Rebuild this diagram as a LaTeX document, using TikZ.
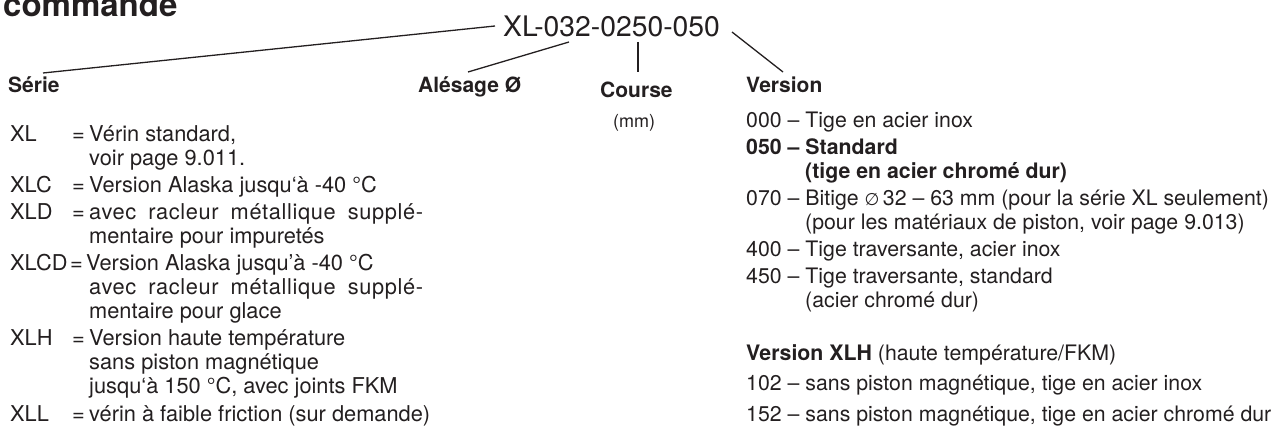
\documentclass[tikz,border=0pt]{standalone}
\usepackage{fontspec}
\setmainfont{TeX Gyre Heros}
\newfontfamily\symfont{DejaVu Sans}
\definecolor{ink}{RGB}{35,31,32}
\newcommand{\justline}[1]{{\addfontfeature{LetterSpace=3}\hbox to 334pt{#1}}}
\begin{document}
\begin{tikzpicture}[x=1pt,y=-1pt,
  body/.style={anchor=base west,inner sep=0pt,text=ink,font=\fontsize{21.3}{24}\selectfont},
  lbody/.style={anchor=base west,inner sep=0pt,text=ink,font=\fontsize{21.8}{24}\selectfont},
  bodyb/.style={anchor=base west,inner sep=0pt,text=ink,font=\fontsize{21.3}{24}\selectfont\bfseries},
  hdr/.style={anchor=base west,inner sep=0pt,text=ink,font=\fontsize{21}{24}\selectfont\bfseries},
  conn/.style={line width=1.3pt,draw=ink}]
\useasboundingbox (0,0) rectangle (1277,435);
% title and code
\node[anchor=base west,inner sep=0pt,text=ink,font=\fontsize{33}{36}\selectfont\bfseries] (title) at (3,17) {commande};
\node[anchor=base west,inner sep=0pt,text=ink,font=\fontsize{28.3}{30}\selectfont] (code) at (503,37) {XL-032-0250-050};
% headers
\node[hdr] (hserie) at (8,93) {Série};
\node[hdr] (halesage) at (418,93) {Alésage Ø};
\node[hdr] (hcourse) at (600,98) {Course};
\node[anchor=base west,inner sep=0pt,text=ink,font=\fontsize{18}{20}\selectfont] (hmm) at (613,128) {(mm)};
\node[hdr] (hversion) at (746,93) {Version};
% connectors
\coordinate (a1) at (495,26); \coordinate (a2) at (43,73);
\coordinate (b1) at (569,42); \coordinate (b2) at (468,72);
\coordinate (c1) at (638,42); \coordinate (c2) at (638,72);
\coordinate (d1) at (732,32); \coordinate (d2) at (783,72);
\draw[conn] (a1) -- (a2);
\draw[conn] (b1) -- (b2);
\draw[conn] (c1) -- (c2);
\draw[conn] (d1) -- (d2);
% left column
\node[lbody] (kxl) at (10,142) {XL};
\node[lbody] (exl) at (72,142) {=};
\node[lbody] (txl1) at (89,142) {Vérin standard,};
\node[lbody] (txl2) at (89,166) {voir page 9.011.};
\node[lbody] (kxlc) at (10,193) {XLC};
\node[lbody] (exlc) at (72,193) {=};
\node[lbody] (txlc) at (89,193) {Version Alaska jusqu‘à -40 °C};
\node[lbody] (kxld) at (10,220) {XLD};
\node[lbody] (exld) at (72,220) {=};
\node[lbody] (txld1) at (89,220) {\justline{avec\hfill racleur\hfill métallique\hfill supplé-}};
\node[lbody] (txld2) at (89,244) {mentaire pour impuretés};
\node[lbody] (kxlcd) at (10,271) {XLCD};
\node[lbody] (exlcd) at (70,271) {=};
\node[lbody] (txlcd1) at (86,271) {Version Alaska jusqu’à -40 °C};
\node[lbody] (txlcd2) at (89,295) {\justline{avec\hfill racleur\hfill métallique\hfill supplé-}};
\node[lbody] (txlcd3) at (89,319) {mentaire pour glace};
\node[lbody] (kxlh) at (10,346) {XLH};
\node[lbody] (exlh) at (72,346) {=};
\node[lbody] (txlh1) at (89,346) {Version haute température};
\node[lbody] (txlh2) at (89,370) {sans piston magnétique};
\node[lbody] (txlh3) at (89,394) {jusqu‘à 150 °C, avec joints FKM};
\node[lbody] (kxll) at (10,421) {XLL};
\node[lbody] (exll) at (72,421) {=};
\node[lbody] (txll) at (89,421) {vérin à faible friction (sur demande)};
% right column
\node[body] (v000) at (746,128) {000 – Tige en acier inox};
\node[bodyb] (v050a) at (746,155) {050 – Standard};
\node[bodyb] (v050b) at (805,179) {(tige en acier chromé dur)};
\node[body] (v070a) at (746,206) {070 – Bitige {\symfont\fontsize{17}{20}\selectfont ∅}\,32 – 63 mm (pour la série XL seulement)};
\node[body] (v070b) at (805,230) {(pour les matériaux de piston, voir page 9.013)};
\node[body] (v400) at (746,257) {400 – Tige traversante, acier inox};
\node[body] (v450a) at (746,284) {450 – Tige traversante, standard};
\node[body] (v450b) at (805,308) {(acier chromé dur)};
\node[body] (vxlh) at (746,361) {\bfseries Version XLH\mdseries{} (haute température/FKM)};
\node[body] (v102) at (746,391) {102 – sans piston magnétique, tige en acier inox};
\node[body] (v152) at (746,421) {152 – sans piston magnétique, tige en acier chromé dur};
\end{tikzpicture}
\end{document}
